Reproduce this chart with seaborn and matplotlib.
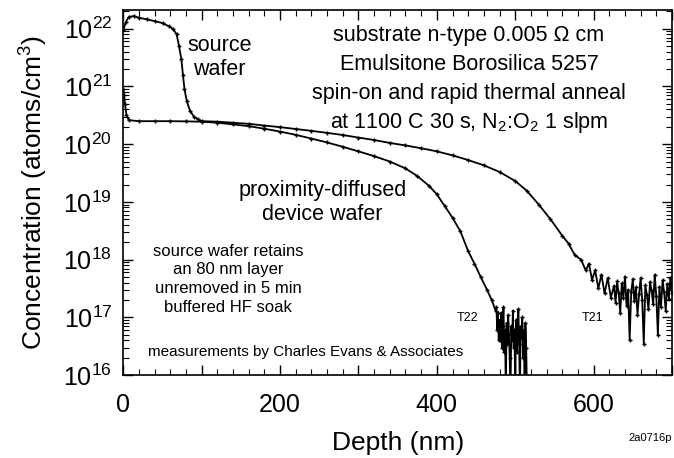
import numpy as np
import pandas as pd
import seaborn as sns
import matplotlib.pyplot as plt
from matplotlib.ticker import MultipleLocator, LogLocator, NullFormatter, FuncFormatter

# Source wafer (T21) SIMS profile: depth (nm), concentration (atoms/cm^3)
t21_depth = [0, 3, 7, 13, 20, 30, 40, 50, 58, 63, 68, 71, 74, 76, 78, 81, 85, 90, 95,
             100, 120, 140, 160, 180, 200, 220, 240, 260, 280, 300, 320, 340, 360, 380,
             400, 420, 440, 460, 480, 500, 515, 530, 545, 560, 568, 576, 584, 590, 594,
             598, 602, 606, 610, 614, 618, 622,
             626, 628, 630, 632, 634, 636, 638, 640, 642, 644, 646, 648, 650, 652, 654,
             656, 658, 660, 662, 664, 666, 668, 670, 672, 674, 676, 678, 680, 682, 684,
             686, 688, 690, 692, 694, 696, 698, 700]
t21_conc = [9.3e21, 1.3e22, 1.6e22, 1.65e22, 1.55e22, 1.45e22, 1.35e22, 1.25e22, 1.1e22,
            1.0e22, 8e21, 5e21, 3e21, 1.6e21, 9e20, 5.5e20, 3.8e20, 3.0e20, 2.7e20,
            2.5e20, 2.45e20, 2.35e20, 2.25e20, 2.1e20, 1.97e20, 1.83e20, 1.7e20, 1.57e20,
            1.44e20, 1.3e20, 1.18e20, 1.05e20, 9.5e19, 8.5e19, 7.5e19, 6.4e19, 5.3e19,
            4.3e19, 3.3e19, 2.3e19, 1.55e19, 9.0e18, 5.0e18, 2.6e18, 1.9e18, 1.2e18,
            1.0e18, 6.5e17, 8.5e17, 4.5e17, 6.5e17, 3.2e17, 5.5e17, 2.6e17, 4.8e17,
            2.2e17,
            3.5e17, 1.8e17, 4.2e17, 2.6e17, 1.2e17, 3.9e17, 2.2e17, 5.1e17, 1.6e17,
            3.0e17, 4.0e16, 2.8e17, 4.6e17, 1.9e17, 3.3e17, 1.1e17, 2.5e17, 4.8e17,
            2.0e17, 3.5e16, 3.6e17, 2.4e17, 1.4e17, 4.1e17, 2.9e17, 1.7e17, 5.5e17,
            2.3e17, 5.0e16, 3.4e17, 1.5e17, 4.4e17, 2.7e17, 1.3e17, 3.8e17, 2.1e17,
            4.9e17, 2.6e17]

# Proximity-diffused device wafer (T22)
t22_depth = [0, 1, 2, 4, 7, 20, 40, 60, 80, 100, 120, 140, 160, 180, 200, 220, 240, 260,
             280, 300, 320, 340, 360, 375, 390, 400, 410, 420, 430, 440, 448, 456, 464,
             470, 475,
             476, 477, 478, 479, 480, 481, 482, 483, 484, 485, 486, 487, 488, 489, 490,
             491, 492, 493, 494, 495, 496, 497, 498, 499, 500, 501, 502, 503, 504, 505,
             506, 507, 508, 509, 510, 511, 512, 513, 514, 515]
t22_conc = [9e20, 7e20, 5e20, 3.2e20, 2.6e20, 2.5e20, 2.5e20, 2.5e20, 2.48e20, 2.45e20,
            2.35e20, 2.2e20, 2.05e20, 1.85e20, 1.65e20, 1.45e20, 1.25e20, 1.07e20,
            9.0e19, 7.5e19, 6.2e19, 5.0e19, 3.8e19, 2.8e19, 1.9e19, 1.35e19, 8.5e18,
            5.3e18, 3.1e18, 1.4e18, 8.5e17, 5.0e17, 3.0e17, 2.0e17, 1.3e17,
            1.5e17, 6e16, 1.2e17, 4e16, 9e16, 4e16, 1.2e17, 3e16, 7e16, 1.5e17, 2.5e16,
            6e16, 5e15, 8e16, 3.5e16, 1.1e17, 5e16, 2e16, 5e15, 7e16, 4e16, 1.3e17,
            3e16, 6e16, 5e15, 9e16, 2.5e16, 5e16, 1.4e17, 3.5e16, 5e15, 7e16, 4.5e16,
            1.0e17, 2e16, 6e16, 5e15, 8e16, 3e16, 5e15]

df = pd.concat([
    pd.DataFrame({'depth': t21_depth, 'conc': t21_conc, 'sample': 'T21'}),
    pd.DataFrame({'depth': t22_depth, 'conc': t22_conc, 'sample': 'T22'}),
])

sns.set_style("ticks")
plt.rcParams['font.family'] = ['Liberation Sans', 'DejaVu Sans']
plt.rcParams['mathtext.fontset'] = 'custom'
plt.rcParams['mathtext.rm'] = 'Liberation Sans'
plt.rcParams['mathtext.it'] = 'Liberation Sans:italic'
plt.rcParams['text.color'] = 'black'
plt.rcParams['axes.labelcolor'] = 'black'

fig = plt.figure(figsize=(6.74, 4.58), dpi=100)
ax = fig.add_axes([0.183, 0.181, 0.814, 0.797])

# seaborn paints marker edges white by default; keep the '+' marks black
sns.lineplot(data=df, x='depth', y='conc', hue='sample', palette=['black', 'black'],
             estimator=None, sort=False, legend=False, ax=ax,
             linewidth=1.3, marker='+', markersize=3.5, markeredgewidth=1,
             markeredgecolor='black')

ax.set_yscale('log')
ax.set_xlim(0, 700)
ax.set_ylim(1e16, 2.1e22)

# ticks: inward on all four sides
ax.xaxis.set_major_locator(MultipleLocator(100))
ax.xaxis.set_minor_locator(MultipleLocator(20))
ax.xaxis.set_major_formatter(FuncFormatter(lambda v, p: f'{int(v)}' if int(v) % 200 == 0 else ''))
ax.yaxis.set_major_locator(LogLocator(base=10, numticks=20))
ax.yaxis.set_minor_locator(LogLocator(base=10, subs=np.arange(2, 10), numticks=20))
ax.yaxis.set_minor_formatter(NullFormatter())
ax.tick_params(which='both', direction='in', top=True, right=True, colors='black')
ax.tick_params(which='major', length=7, width=1, labelsize=18)
ax.tick_params(axis='y', which='major', pad=8)
ax.tick_params(axis='x', which='major', pad=13)
ax.tick_params(which='minor', length=4, width=0.8)
for s in ax.spines.values():
    s.set_linewidth(1.2)
    s.set_color('black')

ax.set_xlabel('Depth (nm)', fontsize=19, labelpad=10)
ax.set_ylabel('Concentration (atoms/cm$^3$)', fontsize=19, labelpad=10)

# annotations
ax.text(123, 10**21.5, 'source\nwafer', fontsize=15.5, ha='center', va='center', linespacing=1.15)
block = ['substrate n-type 0.005 Ω cm', 'Emulsitone Borosilica 5257',
         'spin-on and rapid thermal anneal', 'at 1100 C 30 s, N$_2$:O$_2$ 1 slpm']
for i, line in enumerate(block):
    ax.text(441, 10**(21.89 - i * 0.505), line, fontsize=15.5, ha='center', va='center')
ax.text(254, 10**18.99, 'proximity-diffused\ndevice wafer', fontsize=15.5, ha='center',
        va='center', linespacing=1.15)
ax.text(134, 10**17.66, 'source wafer retains\nan 80 nm layer\nunremoved in 5 min\nbuffered HF soak',
        fontsize=12, ha='center', va='center', linespacing=1.3)
ax.text(232, 10**16.40, 'measurements by Charles Evans & Associates', fontsize=11,
        ha='center', va='center')
ax.text(439, 10**16.99, 'T22', fontsize=9, ha='center', va='center')
ax.text(598, 10**16.99, 'T21', fontsize=9, ha='center', va='center')
fig.text(0.964, 0.044, '2a0716p', fontsize=8, ha='center', va='center')

fig.savefig('out.png', dpi=100)
